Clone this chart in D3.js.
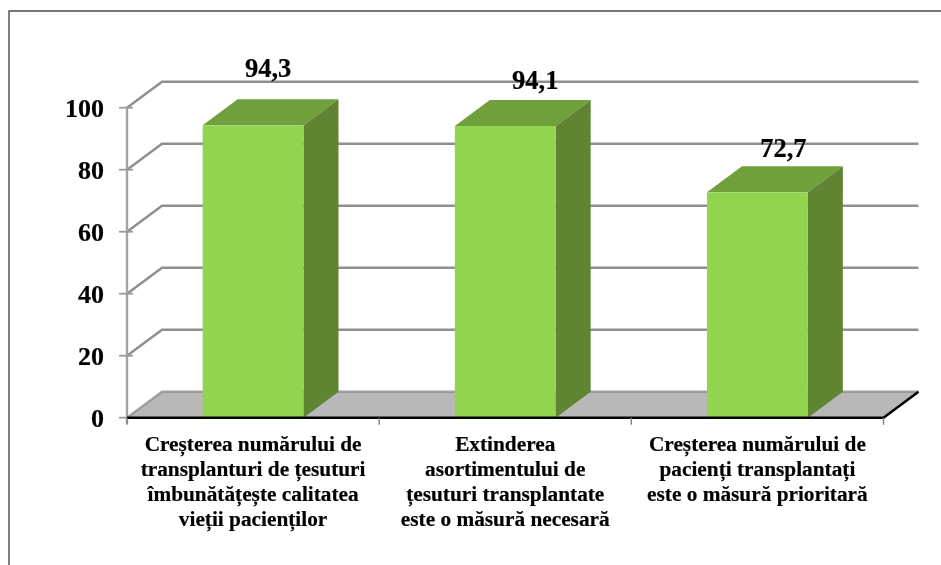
<!DOCTYPE html>
<html><head><meta charset="utf-8">
<script src="https://cdn.jsdelivr.net/npm/d3@7/dist/d3.min.js"></script>
<style>html,body{margin:0;padding:0;background:#fff}svg{display:block;filter:blur(0.35px)}text{font-family:"Liberation Serif",serif;font-weight:bold;fill:#000;stroke:#000;stroke-width:.2px}</style>
</head><body><svg id="c" width="941" height="565"></svg>
<script>
const categories = ["c1","c2","c3"];
const categoryLines = [
  ["Creșterea numărului de","transplanturi de țesuturi","îmbunătățește calitatea","vieții pacienților"],
  ["Extinderea","asortimentului de","țesuturi transplantate","este o măsură necesară"],
  ["Creșterea numărului de","pacienți transplantați","este o măsură prioritară"]
];
const values = [94.3, 94.1, 72.7];
const valueLabels = ["94,3","94,1","72,7"];
const yTicks = [0,20,40,60,80,100];

const W=941,H=565, depthX=35, depthY=26;
const labelShiftX=[15,30,26], labelShiftY=[-48.5,-36.5,-35.5];
const svg=d3.select("#c");
const y=d3.scaleLinear().domain([0,100]).range([417.7,107.7]);
const x=d3.scaleBand().domain(categories).range([127,883.5]).paddingInner(.6).paddingOuter(.3);
const [x0,x1]=x.range();
const step=x.step();
const line=d3.line();

// frame
svg.append("path").attr("d",line([[9,H+5],[9,11],[W+5,11]])).attr("fill","none").attr("stroke","#4a4a4a").attr("stroke-width",1.4);

// floor
svg.append("path").attr("d",line([[x0,y(0)],[x0+depthX,y(0)-depthY],[x1+depthX,y(0)-depthY],[x1,y(0)]])+"Z").attr("fill","#b8b8b8");

// gridlines: back wall and left wall
yTicks.forEach(t=>{
  const yy=y(t);
  svg.append("path").attr("d",line([[x0,yy],[x0+depthX,yy-depthY],[x1+depthX,yy-depthY]]))
    .attr("fill","none").attr("stroke","#8f8f8f").attr("stroke-width",2.4).attr("stroke-opacity",t===0?0.8:1);
});

// vertical axis with ticks
svg.append("path").attr("d",line([[x0,y(100)],[x0,y(0)+6]])).attr("fill","none").attr("stroke","#a3a3a3").attr("stroke-width",2.4);
yTicks.forEach(t=>{
  svg.append("path").attr("d",line([[119,y(t)],[133,y(t)]])).attr("stroke","#9a9a9a").attr("stroke-width",1.8);
  svg.append("text").attr("x",104).attr("y",y(t)+9).attr("text-anchor","end").attr("font-size",26).text(t);
});

// bars
const g=svg.selectAll("g.bar").data(categories).join("g").attr("class","bar");
g.each(function(c,i){
  const s=d3.select(this),l=x(c),r=l+x.bandwidth(),t=y(values[i]),b=y(0);
  s.append("path").attr("d",line([[l,t],[l+depthX,t-depthY],[r+depthX,t-depthY],[r,t]])+"Z").attr("fill","#70a03c");
  s.append("path").attr("d",line([[r,t],[r+depthX,t-depthY],[r+depthX,b-depthY],[r,b]])+"Z").attr("fill","#5f8533");
  s.append("rect").attr("x",l).attr("y",t).attr("width",x.bandwidth()).attr("height",b-t).attr("fill","#92d350");
});

// black floor edge
svg.append("path").attr("d",line([[x0,y(0)],[x1,y(0)],[x1+depthX,y(0)-depthY]])).attr("fill","none").attr("stroke","#000").attr("stroke-width",2.5);

// x ticks
d3.range(4).forEach(i=>{
  svg.append("path").attr("d",line([[x0+i*step,y(0)],[x0+i*step,y(0)+7]])).attr("stroke","#808080").attr("stroke-width",1.4);
});

// value labels
categories.forEach((c,i)=>{
  svg.append("text").attr("x",x(c)+x.bandwidth()/2+labelShiftX[i]).attr("y",y(values[i])+labelShiftY[i])
    .attr("text-anchor","middle").attr("font-size",26.5).text(valueLabels[i]);
});

// category labels
categories.forEach((c,i)=>{
  const cx=x(c)+x.bandwidth()/2;
  categoryLines[i].forEach((ln,k)=>{
    svg.append("text").attr("x",cx).attr("y",451+k*25).attr("text-anchor","middle").attr("font-size",21.3).text(ln);
  });
});
</script></body></html>
